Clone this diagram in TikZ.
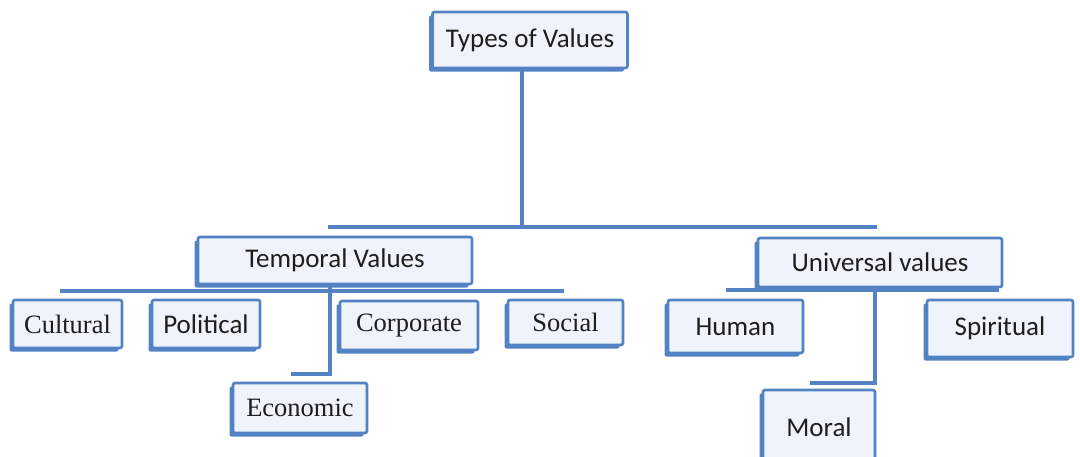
\documentclass[tikz,border=0pt]{standalone}
\usepackage{fontspec}
\setmainfont{Carlito}
\newfontfamily\serifface{Liberation Serif}
\usetikzlibrary{shadows}
\definecolor{vb}{RGB}{84,131,196}
\definecolor{vfill}{RGB}{239,243,251}
\definecolor{vtext}{RGB}{30,30,30}
\tikzset{
  vbox/.style={draw=vb, line width=2.6pt, fill=vfill, rounded corners=2pt,
    inner sep=0pt, text=vtext, font=\fontsize{27}{32}\selectfont,
    drop shadow={shadow xshift=-3.5pt, shadow yshift=-3.5pt, fill=vb, opacity=1}},
  sbox/.style={vbox, font=\serifface\fontsize{26.5}{31}\selectfont},
  conn/.style={draw=vb, line width=3.6pt, line cap=rect}
}
\begin{document}
\begin{tikzpicture}[x=1pt,y=-1pt]
\useasboundingbox (0,0) rectangle (1080,456);
\clip (0,0) rectangle (1080,456);
% connectors
\coordinate (a1) at (522,227);
\coordinate (a2) at (330,227);
\coordinate (a3) at (875,227);
\coordinate (t1) at (62,291);
\coordinate (t2) at (562,291);
\coordinate (t3) at (330,374);
\coordinate (t4) at (293,374);
\coordinate (u1) at (728,290);
\coordinate (u2) at (997,290);
\coordinate (u3) at (875,383);
\coordinate (u4) at (812,383);
% nodes
\node[vbox, minimum width=195pt, minimum height=56pt] (top) at (530,40) {Types of Values};
\node[vbox, minimum width=274pt, minimum height=47pt] (temp) at (335,260.5) {Temporal Values};
\node[vbox, minimum width=244pt, minimum height=49pt] (univ) at (880,262.5) {Universal values};
\node[sbox, minimum width=109pt, minimum height=48pt] (cult) at (67.5,324) {Cultural};
\node[vbox, minimum width=108pt, minimum height=48pt] (poli) at (206,324) {Political};
\node[sbox, minimum width=138pt, minimum height=49pt] (corp) at (409,325.5) {Corporate};
\node[sbox, minimum width=115pt, minimum height=45pt] (soci) at (565.5,322.5) {Social};
\node[sbox, minimum width=134pt, minimum height=50pt] (econ) at (300,408) {Economic};
\node[vbox, minimum width=135pt, minimum height=53pt] (huma) at (735.5,326.5) {Human};
\node[vbox, minimum width=146pt, minimum height=57pt] (spir) at (1000,328.5) {Spiritual};
\node[vbox, minimum width=112pt, minimum height=74pt, text depth=0pt] (mora) at (819,427) {Moral};
% connector drawing
\draw[conn] (top.south -| a1) -- (a1);
\draw[conn] (a2) -- (a3);
\draw[conn] (t1) -- (t2);
\draw[conn] (temp.south -| t3) -- (t3) -- (t4);
\draw[conn] (u1) -- (u2);
\draw[conn] (univ.south -| u3) -- (u3) -- (u4);
\end{tikzpicture}
\end{document}
